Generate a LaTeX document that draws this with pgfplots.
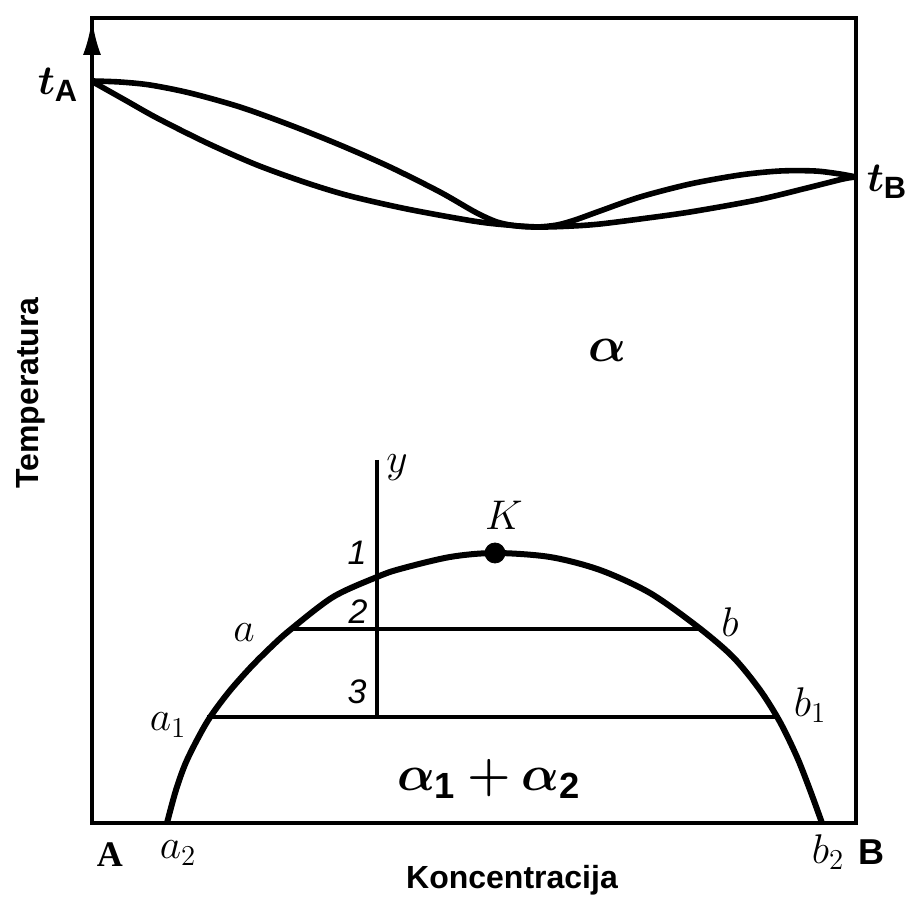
\documentclass[border=0pt]{standalone}
\usepackage{pgfplots}
\pgfplotsset{compat=1.18}
\usepackage{bm}
\usepackage{fontspec}
\setmainfont{Liberation Sans}
\newfontfamily\seriffont{Liberation Serif}
\usetikzlibrary{arrows.meta}
\begin{document}
\begin{tikzpicture}
\begin{axis}[
  scale only axis, width=382pt, height=402.5pt,
  xmin=92, xmax=856, ymin=18, ymax=823, y dir=reverse,
  axis lines=box, axis line style={line width=2pt},
  xtick=\empty, ytick=\empty, clip=false,
]
\coordinate (bbsw) at (axis cs:0,898);
\coordinate (bbne) at (axis cs:907,0);
% liquidus
\addplot[smooth, tension=0.5, line width=2.8pt, black] coordinates {
(93,81) (120,82) (150,85) (190,93) (240,107) (290,125) (340,145) (390,167) (440,192) (475,212) (497,222) (517,226) (537,227) (557,225) (575,220) (600,211) (640,197) (690,184) (740,175) (780,171) (815,171) (840,174) (856,177)};
% solidus
\addplot[smooth, tension=0.5, line width=2.8pt, black] coordinates {
(93,82) (125,100) (157,118) (207,143) (257,165) (307,183) (350,196) (407,209) (473,221) (507,225) (540,227) (573,226) (600,224) (640,219) (690,212) (757,200) (807,188) (843,179) (856,177)};
% miscibility gap
\addplot[smooth, tension=0.5, line width=3pt, black] coordinates {
(167,823) (176,790) (187,760) (207,722) (228,693) (250,668) (270,648) (290,630) (333,597) (377,577) (400,569) (450,557) (495,553) (550,557) (600,570) (650,593) (698,627) (733,657) (760,690) (780,722) (797,757) (810,790) (822,823)};
% tie lines
\addplot[line width=1.8pt, black] coordinates {(290,629) (698,629)};
\addplot[line width=1.8pt, black] coordinates {(207,717) (778,717)};
% vertical y line
\addplot[line width=2pt, black] coordinates {(377,460) (377,717)};
% critical point
\addplot[only marks, mark=*, mark size=5pt, black] coordinates {(495,553)};
% axis arrow
\draw[line width=2pt, -{Latex[length=18pt,width=9pt]}] (axis cs:92,80) -- (axis cs:92,19);
% labels
\node[font=\fontsize{22}{24}\selectfont] at (axis cs:58,85) {$\bm{t}_{\mathbf{A}}$};
\node[font=\fontsize{22}{24}\selectfont] at (axis cs:887,182) {$\bm{t}_{\mathbf{B}}$};
\node[font=\fontsize{24}{26}\selectfont] at (axis cs:607,350) {$\bm{\alpha}$};
\node[font=\fontsize{26}{28}\selectfont] at (axis cs:489,779) {$\bm{\alpha}_{\mathbf{1}}\bm{+}\bm{\alpha}_{\mathbf{2}}$};
\node[font=\fontsize{20}{22}\selectfont] at (axis cs:397,468) {$y$};
\node[font=\fontsize{20}{22}\selectfont] at (axis cs:504,515) {$K$};
\node[font=\fontsize{17}{19}\selectfont] at (axis cs:357,553) {\textit{1}};
\node[font=\fontsize{17}{19}\selectfont] at (axis cs:358,612) {\textit{2}};
\node[font=\fontsize{17}{19}\selectfont] at (axis cs:357,692) {\textit{3}};
\node[font=\fontsize{21}{23}\selectfont] at (axis cs:244,633) {$a$};
\node[font=\fontsize{21}{23}\selectfont] at (axis cs:730,622) {$b$};
\node[font=\fontsize{21}{23}\selectfont] at (axis cs:168,725) {$a_1$};
\node[font=\fontsize{21}{23}\selectfont] at (axis cs:810,705) {$b_1$};
\node[font=\fontsize{18}{20}\selectfont\seriffont\bfseries] at (axis cs:110,855) {A};
\node[font=\fontsize{21}{23}\selectfont] at (axis cs:178,853) {$a_2$};
\node[font=\fontsize{21}{23}\selectfont] at (axis cs:828,852) {$b_2$};
\node[font=\fontsize{18}{20}\selectfont\bfseries] at (axis cs:871,852) {B};
\node[font=\fontsize{16}{18}\selectfont\bfseries] at (axis cs:512,880) {Koncentracija};
\node[font=\fontsize{16}{18}\selectfont\bfseries, rotate=90] at (axis cs:31,393) {Temperatura};
\end{axis}
\pgfresetboundingbox
\path[use as bounding box] (bbsw) rectangle (bbne);
\end{tikzpicture}
\end{document}
